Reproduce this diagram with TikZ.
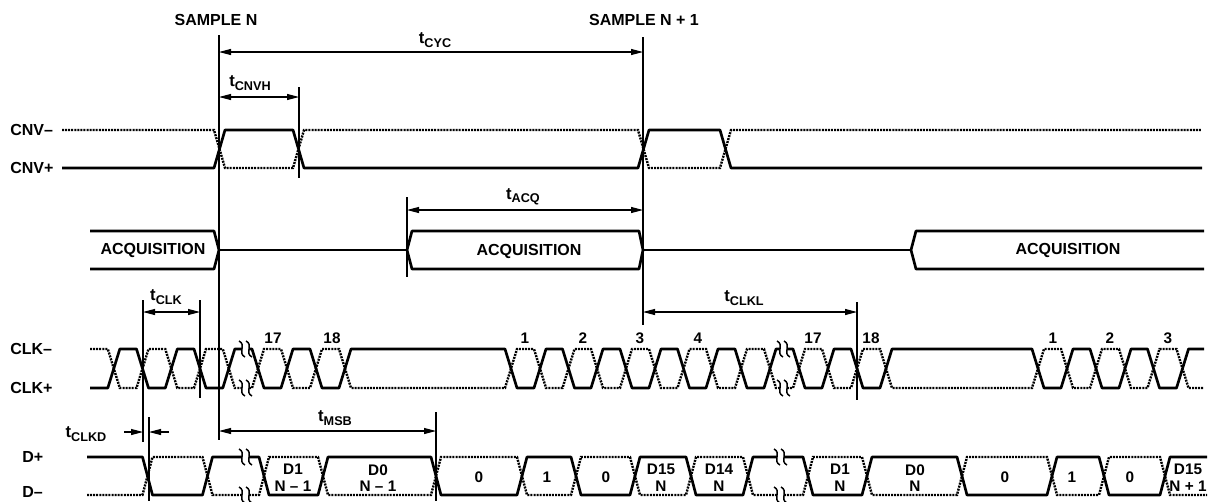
\documentclass[tikz,border=0pt]{standalone}
\usepackage{fontspec}
\setmainfont{Liberation Sans}
\usetikzlibrary{arrows.meta}
\newcommand\tlab[1]{{\fontsize{12.5}{12}\selectfont t}\raisebox{-2.5pt}{\fontsize{9.5}{10}\selectfont #1}}
% waveforms: #1 = level at start, #2 = other level
\newcommand\wfCnv[2]{(62,#1)--(214,#1)--(225,#2)--(293,#2)--(304,#1)--(638,#1)--(649,#2)--(720,#2)--(731,#1)--(1202,#1)}
\newcommand\wfClkA[2]{(90,#1)--(107.8,#1)--(119.8,#2)--(136.5,#2)--(148.5,#1)--(165.3,#1)--(177.3,#2)--(194,#2)--(206,#1)--(222.8,#1)--(234.8,#2)--(242,#2)}
\newcommand\wfClkB[2]{(249,#2)--(252,#2)--(264,#1)--(281,#1)--(293,#2)--(310,#2)--(322,#1)--(339,#1)--(351,#2)--(505,#2)--(517,#1)--(534,#1)--(546,#2)--(562.5,#2)--(574.5,#1)--(591,#1)--(603,#2)--(620,#2)--(632,#1)--(649,#1)--(661,#2)--(677.5,#2)--(689.5,#1)--(706,#1)--(718,#2)--(735,#2)--(747,#1)--(764,#1)--(776,#2)--(780,#2)}
\newcommand\wfClkC[2]{(787,#2)--(793,#2)--(805,#1)--(822,#1)--(834,#2)--(851,#2)--(863,#1)--(880,#1)--(892,#2)--(1032,#2)--(1044,#1)--(1061,#1)--(1073,#2)--(1090,#2)--(1102,#1)--(1119,#1)--(1131,#2)--(1147.5,#2)--(1159.5,#1)--(1176.5,#1)--(1188.5,#2)--(1204,#2)}
\newcommand\wfDA[2]{(87,#1)--(142.5,#1)--(152.5,#2)--(202.5,#2)--(212.5,#1)--(242,#1)}
\newcommand\wfDB[2]{(249,#1)--(259,#1)--(269,#2)--(318,#2)--(328,#1)--(431,#1)--(441,#2)--(517,#2)--(527,#1)--(571,#1)--(581,#2)--(630,#2)--(640,#1)--(686,#1)--(696,#2)--(743,#2)--(753,#1)--(777,#1)}
\newcommand\wfDC[2]{(784,#1)--(803,#1)--(813,#2)--(862,#2)--(872,#1)--(957,#1)--(967,#2)--(1047,#2)--(1057,#1)--(1099,#1)--(1109,#2)--(1160,#2)--(1170,#1)--(1207,#1)}
\newcommand\wfBreak[2]{\draw[brk] ({#1-3},{#2-8}) .. controls ({#1+5},{#2-4}) and ({#1-5},{#2+4}) .. ({#1+3},{#2+8});}
\begin{document}
\begin{tikzpicture}[x={(0.75pt,0)},y={(0,-0.75pt)},
  sig/.style={line width=2pt,line join=round},
  dotsig/.style={line width=1.8pt,dash pattern=on 1.5pt off 0.8pt},
  guide/.style={line width=0.8pt},
  dim/.style={line width=0.8pt,{Triangle[length=9pt,width=4.5pt]}-{Triangle[length=9pt,width=4.5pt]}},
  dimr/.style={line width=0.8pt,-{Triangle[length=9pt,width=4.5pt]}},
  brk/.style={line width=1.1pt},
  txt/.style={font=\fontsize{12}{12}\selectfont\bfseries,inner sep=0pt},
  num/.style={font=\fontsize{11.5}{12}\selectfont\bfseries,inner sep=0pt},
  dat/.style={font=\fontsize{11.5}{12.5}\selectfont\bfseries,inner sep=0pt,align=center}]
\useasboundingbox (0,0) rectangle (1222,501);

% ---------- titles and signal names
\node[txt] (sN) at (216,20) {SAMPLE N};
\node[txt] (sN1) at (644,20) {SAMPLE N + 1};
\node[txt,anchor=west] (lcnvm) at (10,130) {CNV–};
\node[txt,anchor=west] (lcnvp) at (10,168) {CNV+};
\node[txt,anchor=west] (lclkm) at (10,349) {CLK–};
\node[txt,anchor=west] (lclkp) at (10,388) {CLK+};
\node[txt,anchor=west] (ldp) at (22,457) {D+};
\node[txt,anchor=west] (ldm) at (22,492) {D–};

% ---------- CNV
\draw[dotsig] \wfCnv{130}{168};
\draw[sig] \wfCnv{168}{130};

% ---------- ACQUISITION
\draw[sig] (90,231)--(214,231)--(219,250)--(214,269)--(90,269);
\draw[sig] (219,250)--(407,250);
\draw[sig] (407,250)--(412,231)--(639,231)--(643,250)--(639,269)--(412,269)--cycle;
\draw[sig] (643,250)--(911,250);
\draw[sig] (1204,231)--(916,231)--(911,250)--(916,269)--(1204,269);
\node[txt] (acq1) at (153,250) {ACQUISITION};
\node[txt] (acq2) at (529,251) {ACQUISITION};
\node[txt] (acq3) at (1068,250) {ACQUISITION};

% ---------- CLK
\draw[dotsig] \wfClkA{349}{388};
\draw[sig] \wfClkA{388}{349};
\draw[dotsig] \wfClkB{349}{388};
\draw[sig] \wfClkB{388}{349};
\draw[dotsig] \wfClkC{349}{388};
\draw[sig] \wfClkC{388}{349};
\foreach \bx in {242,249,780,787}{\wfBreak{\bx}{349}\wfBreak{\bx}{388}}
\node[num] (c17a) at (273,338) {17};
\node[num] (c18a) at (332,338) {18};
\node[num] (c1a) at (525,338) {1};
\node[num] (c2a) at (583,338) {2};
\node[num] (c3a) at (640,338) {3};
\node[num] (c4a) at (698,338) {4};
\node[num] (c17b) at (813,338) {17};
\node[num] (c18b) at (871,338) {18};
\node[num] (c1b) at (1053,338) {1};
\node[num] (c2b) at (1110,338) {2};
\node[num] (c3b) at (1168,338) {3};

% ---------- D
\draw[dotsig] \wfDA{495}{457};
\draw[sig] \wfDA{457}{495};
\draw[dotsig] \wfDB{495}{457};
\draw[sig] \wfDB{457}{495};
\draw[dotsig] \wfDC{495}{457};
\draw[sig] \wfDC{457}{495};
\foreach \bx in {242,249}{\wfBreak{\bx}{457}\wfBreak{\bx}{495}}
\foreach \bx in {777,784}{\wfBreak{\bx}{457}\wfBreak{\bx}{495}}
\node[dat] (d1a) at (293,478) {D1\\N – 1};
\node[dat] (d0a) at (378,478) {D0\\N – 1};
\node[dat] (b0a) at (479,477) {0};
\node[dat] (b1a) at (547,477) {1};
\node[dat] (b0b) at (606,477) {0};
\node[dat] (d15a) at (661,478) {D15\\N};
\node[dat] (d14a) at (719,478) {D14\\N};
\node[dat] (d1b) at (840,478) {D1\\N};
\node[dat] (d0b) at (915,478) {D0\\N};
\node[dat] (b0c) at (1005,477) {0};
\node[dat] (b1b) at (1072,477) {1};
\node[dat] (b0d) at (1130,477) {0};
\node[dat] (d15b) at (1188,478) {D15\\N + 1};

% ---------- guide lines
\coordinate (vNt) at (219,35);   \coordinate (vNb) at (219,440);
\coordinate (vN1t) at (643,37);  \coordinate (vN1b) at (643,325);
\coordinate (vHt) at (299,87);   \coordinate (vHb) at (299,178);
\coordinate (vAt) at (407,197);  \coordinate (vAb) at (407,277);
\coordinate (vK1t) at (143,300); \coordinate (vK1b) at (143,442);
\coordinate (vK2t) at (200,300); \coordinate (vK2b) at (200,398);
\coordinate (vLt) at (857,302);  \coordinate (vLb) at (857,400);
\coordinate (vDt) at (149,417);  \coordinate (vDb) at (149,501);
\coordinate (vMt) at (436,412);  \coordinate (vMb) at (436,501);
\foreach \a/\b in {vNt/vNb,vN1t/vN1b,vHt/vHb,vAt/vAb,vK1t/vK1b,vK2t/vK2b,vLt/vLb,vDt/vDb,vMt/vMb}
  \draw[guide] (\a)--(\b);

% ---------- dimension arrows
\coordinate (cycL) at (219,52);  \coordinate (cycR) at (643,52);
\draw[dim] (cycL)--(cycR);
\node[txt] (tcyc) at (435,40) {\tlab{CYC}};
\coordinate (cnvL) at (219,97);  \coordinate (cnvR) at (299,97);
\draw[dim] (cnvL)--(cnvR);
\node[txt] (tcnvh) at (250,83) {\tlab{CNVH}};
\coordinate (acqL) at (407,210); \coordinate (acqR) at (643,210);
\draw[dim] (acqL)--(acqR);
\node[txt] (tacq) at (523,197) {\tlab{ACQ}};
\coordinate (clkL) at (143,312); \coordinate (clkR) at (200,312);
\draw[dim] (clkL)--(clkR);
\node[txt] (tclk) at (166,297) {\tlab{CLK}};
\coordinate (clklL) at (643,312); \coordinate (clklR) at (857,312);
\draw[dim] (clklL)--(clklR);
\node[txt] (tclkl) at (744,298) {\tlab{CLKL}};
\coordinate (msbL) at (219,431); \coordinate (msbR) at (436,431);
\draw[dim] (msbL)--(msbR);
\node[txt] (tmsb) at (335,418) {\tlab{MSB}};
\coordinate (ckdA) at (124,432); \coordinate (ckdB) at (143,432);
\coordinate (ckdC) at (169,432); \coordinate (ckdD) at (149,432);
\draw[dimr] (ckdA)--(ckdB);
\draw[dimr] (ckdC)--(ckdD);
\node[txt] (tclkd) at (86,434) {\tlab{CLKD}};
\end{tikzpicture}
\end{document}
